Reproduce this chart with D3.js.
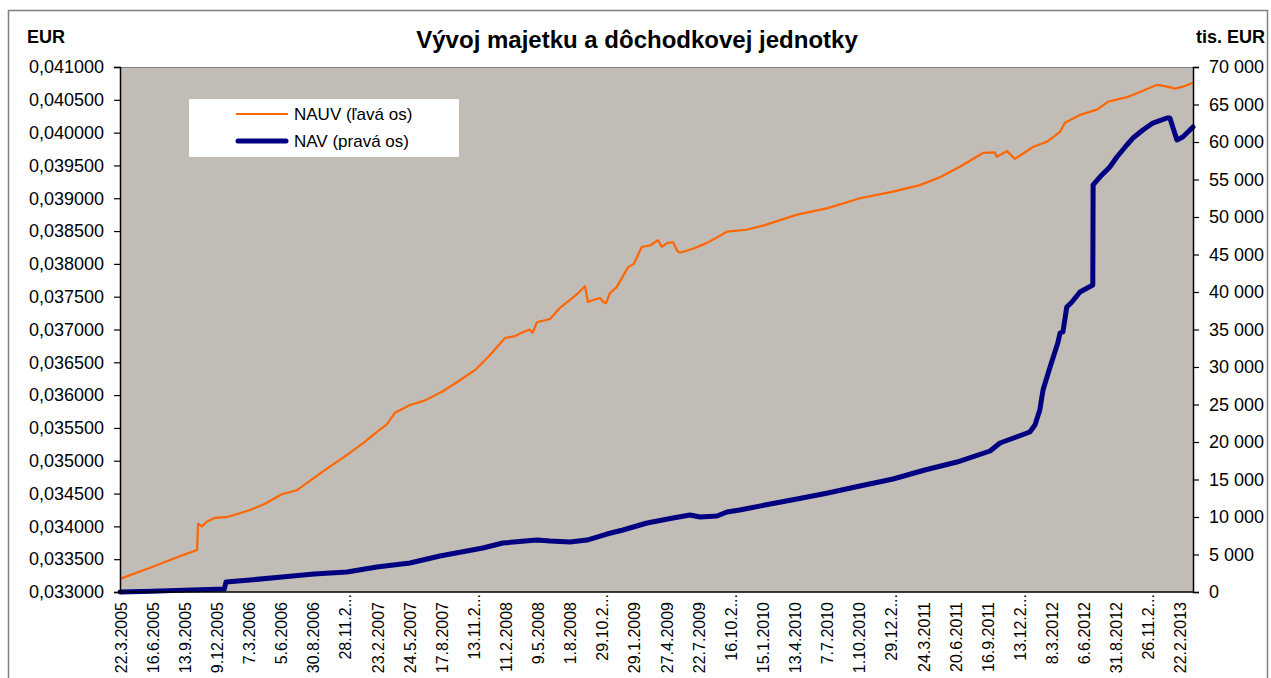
<!DOCTYPE html>
<html>
<head>
<meta charset="utf-8">
<script src="https://cdn.jsdelivr.net/npm/d3@7"></script>
<style>
body { margin:0; background:#fff; }
text { font-family: Arial, "Liberation Sans", sans-serif; fill:#000; }
.title { font-size:24px; font-weight:bold; }
.unit { font-size:18px; font-weight:bold; }
.ytick text { font-size:18px; }
.xlab { font-size:16px; }
.legend text { font-size:17px; }
</style>
</head>
<body>
<svg id="chart" width="1271" height="678"></svg>
<script>

// x axis labels (every label step = one category group)
var xLabels = ["22.3.2005","16.6.2005","13.9.2005","9.12.2005","7.3.2006","5.6.2006",
    "30.8.2006","28.11.2...","23.2.2007","24.5.2007","17.8.2007","13.11.2...",
    "11.2.2008","9.5.2008","1.8.2008","29.10.2...","29.1.2009","27.4.2009",
    "22.7.2009","16.10.2...","15.1.2010","13.4.2010","7.7.2010","1.10.2010",
    "29.12.2...","24.3.2011","20.6.2011","16.9.2011","13.12.2...","8.3.2012",
    "6.6.2012","31.8.2012","26.11.2...","22.2.2013"];

// last position on the category axis (in label steps)
var xEnd = 33.41;

var leftTicks = d3.range(0.033, 0.04101, 0.0005);
var rightTicks = d3.range(0, 70001, 5000);

// NAUV, left axis: [position in label steps, EUR]
var nauv = [
    [0,0.03320],[1.0,0.03338],[2.0,0.03357],[2.40,0.03364],[2.43,0.03404],[2.55,0.03400],
    [2.70,0.03407],[2.96,0.03413],[3.3,0.03414],[3.6,0.03418],[4.05,0.03425],[4.5,0.03434],
    [5.04,0.03449],[5.5,0.03455],[6.04,0.03474],[6.5,0.03490],[7.07,0.03509],[7.6,0.03528],
    [8.0,0.03544],[8.3,0.03555],[8.56,0.03573],[9.03,0.03585],[9.5,0.03592],[10.02,0.03605],
    [10.5,0.03620],[11.05,0.03638],[11.5,0.03660],[11.99,0.03687],[12.3,0.03690],[12.55,0.03696],
    [12.75,0.03700],[12.85,0.03695],[12.98,0.03711],[13.39,0.03716],[13.70,0.03733],[14.01,0.03745],
    [14.3,0.03757],[14.48,0.03766],[14.57,0.03742],[14.73,0.03745],[14.94,0.03748],[15.05,0.03742],
    [15.13,0.03740],[15.25,0.03755],[15.47,0.03765],[15.82,0.03795],[16.0,0.03800],[16.25,0.03826],
    [16.5,0.03828],[16.75,0.03836],[16.87,0.03826],[17.05,0.03832],[17.22,0.03833],[17.35,0.03820],
    [17.43,0.03817],[17.84,0.03823],[18.28,0.03832],[18.90,0.03849],[19.5,0.03852],[20.08,0.03859],
    [21.08,0.03875],[22.04,0.03885],[23.04,0.03900],[24.07,0.03910],[24.91,0.03920],[25.53,0.03932],
    [26.15,0.03948],[26.87,0.03969],[27.24,0.03970],[27.30,0.03963],[27.62,0.03972],[27.86,0.03960],
    [28.24,0.03972],[28.42,0.03978],[28.86,0.03986],[29.27,0.04001],[29.42,0.04015],[29.89,0.04027],
    [30.42,0.04035],[30.76,0.04047],[31.35,0.04054],[31.76,0.04062],[32.29,0.04073],[32.60,0.04070],
    [32.85,0.04067],[33.09,0.04070],[33.41,0.04076]
];

// NAV, right axis: [position in label steps, tis. EUR]
var nav = [
    [0,0],[1,100],[2,250],[3.25,400],[3.30,1330],[4.05,1600],[5.04,2000],[6.04,2400],
    [7.07,2670],[8.0,3330],[9.03,3870],[9.96,4800],[11.30,5870],[11.92,6530],[12.98,6930],
    [13.39,6800],[14.01,6670],[14.54,6930],[15.16,7730],[15.66,8270],[16.41,9200],[17.22,9870],
    [17.75,10270],[18.06,10000],[18.59,10130],[18.90,10670],[19.30,10930],[20.08,11600],
    [21.08,12400],[22.04,13200],[23.04,14130],[24.07,15070],[25.06,16270],[26.06,17330],
    [27.09,18800],[27.40,19870],[28.33,21330],[28.49,22270],[28.64,24270],[28.74,26930],
    [28.95,29870],[29.20,33200],[29.27,34530],[29.36,34670],[29.48,38000],[29.64,38670],
    [29.89,40000],[30.29,40930],[30.30,54270],[30.51,55330],[30.82,56670],[31.04,58000],
    [31.35,59600],[31.54,60530],[31.85,61600],[32.16,62530],[32.60,63200],[32.69,63200],
    [32.91,60270],[33.09,60670],[33.41,62000]
];

var margins = {left:120, top:67, right:78, bottom:86};
var screen = {width:1271, height:678};
var graph = {
    width: screen.width - margins.left - margins.right,
    height: screen.height - margins.top - margins.bottom
};

var svg = d3.select("#chart");

var xScale = d3.scaleLinear().domain([0, xEnd]).range([0, graph.width]);
var yLeft = d3.scaleLinear().domain([0.033, 0.041]).range([graph.height, 0]);
var yRight = d3.scaleLinear().domain([0, 70000]).range([graph.height, 0]);

var fmtLeft = function(d){ return d3.format(".6f")(d).replace(".", ","); };
var fmtRight = function(d){ return d3.format(",")(d).replace(/,/g, "\u00a0"); };

// outer frame
svg.append("rect")
    .attr("x", 8.5).attr("y", 10.5)
    .attr("width", 1259).attr("height", 700)
    .attr("fill", "none").attr("stroke", "#808080").attr("stroke-width", 1.5);

var plot = svg.append("g")
    .attr("transform", "translate(" + margins.left + "," + margins.top + ")");

plot.append("rect")
    .attr("width", graph.width).attr("height", graph.height)
    .attr("fill", "#C1BDB6");
plot.append("line")
    .attr("x1", 0).attr("x2", graph.width).attr("y1", 0.5).attr("y2", 0.5)
    .attr("stroke", "#808080");

// lines
var lineLeft = d3.line()
    .x(function(d){ return xScale(d[0]); })
    .y(function(d){ return yLeft(d[1]); });
var lineRight = d3.line()
    .x(function(d){ return xScale(d[0]); })
    .y(function(d){ return yRight(d[1]); });

plot.append("path")
    .datum(nauv)
    .attr("d", lineLeft)
    .attr("fill", "none")
    .attr("stroke", "#FF6600")
    .attr("stroke-width", 2.2)
    .attr("stroke-linejoin", "round");

plot.append("path")
    .datum(nav)
    .attr("d", lineRight)
    .attr("fill", "none")
    .attr("stroke", "#000080")
    .attr("stroke-width", 5)
    .attr("stroke-linejoin", "round")
    .attr("stroke-linecap", "round");

// axes
var leftAxis = d3.axisLeft(yLeft).tickValues(leftTicks).tickFormat(fmtLeft).tickSizeOuter(0).tickSize(6).tickPadding(10);
var rightAxis = d3.axisRight(yRight).tickValues(rightTicks).tickFormat(fmtRight).tickSizeOuter(0).tickSize(6).tickPadding(10);

var gl = plot.append("g").attr("class", "ytick").call(leftAxis);
var gr = plot.append("g").attr("class", "ytick")
    .attr("transform", "translate(" + graph.width + ",0)").call(rightAxis);
[gl, gr].forEach(function(g){
    g.select(".domain").attr("stroke", "#000").attr("stroke-width", 1.5);
    g.selectAll(".tick line").attr("stroke", "#000").attr("stroke-width", 1.2);
    g.selectAll("text").attr("fill", "#000").style("font-family", "Arial, 'Liberation Sans', sans-serif");
});

plot.append("line")
    .attr("x1", 0).attr("x2", graph.width)
    .attr("y1", graph.height).attr("y2", graph.height)
    .attr("stroke", "#000").attr("stroke-width", 1.5);

// category labels, rotated
plot.selectAll(".xlab")
    .data(xLabels)
    .enter()
    .append("text")
    .attr("class", "xlab")
    .attr("text-anchor", "end")
    .attr("dy", "0.35em")
    .attr("transform", function(d, i){
        var y = d.indexOf("...") > 0 ? graph.height + 2 : graph.height + 10;
        return "translate(" + (xScale(i) + 1) + "," + y + ") rotate(-90)";
    })
    .text(function(d){ return d; });

// titles
svg.append("text").attr("class", "title")
    .attr("x", 637).attr("y", 48).attr("text-anchor", "middle")
    .text("Vývoj majetku a dôchodkovej jednotky");
svg.append("text").attr("class", "unit")
    .attr("x", 27).attr("y", 43).text("EUR");
svg.append("text").attr("class", "unit")
    .attr("x", 1265).attr("y", 43).attr("text-anchor", "end").text("tis. EUR");

// legend
var legend = svg.append("g").attr("class", "legend")
    .attr("transform", "translate(189,99)");
legend.append("rect").attr("width", 270).attr("height", 58).attr("fill", "#fff");
legend.append("line").attr("x1", 47).attr("x2", 99).attr("y1", 15).attr("y2", 15)
    .attr("stroke", "#FF6600").attr("stroke-width", 2.2);
legend.append("line").attr("x1", 49).attr("x2", 97).attr("y1", 42).attr("y2", 42)
    .attr("stroke", "#000080").attr("stroke-width", 5).attr("stroke-linecap", "round");
legend.append("text").attr("x", 105).attr("y", 15).attr("dy", "0.35em").text("NAUV (ľavá os)");
legend.append("text").attr("x", 105).attr("y", 42).attr("dy", "0.35em").text("NAV (pravá os)");

</script>
</body>
</html>
